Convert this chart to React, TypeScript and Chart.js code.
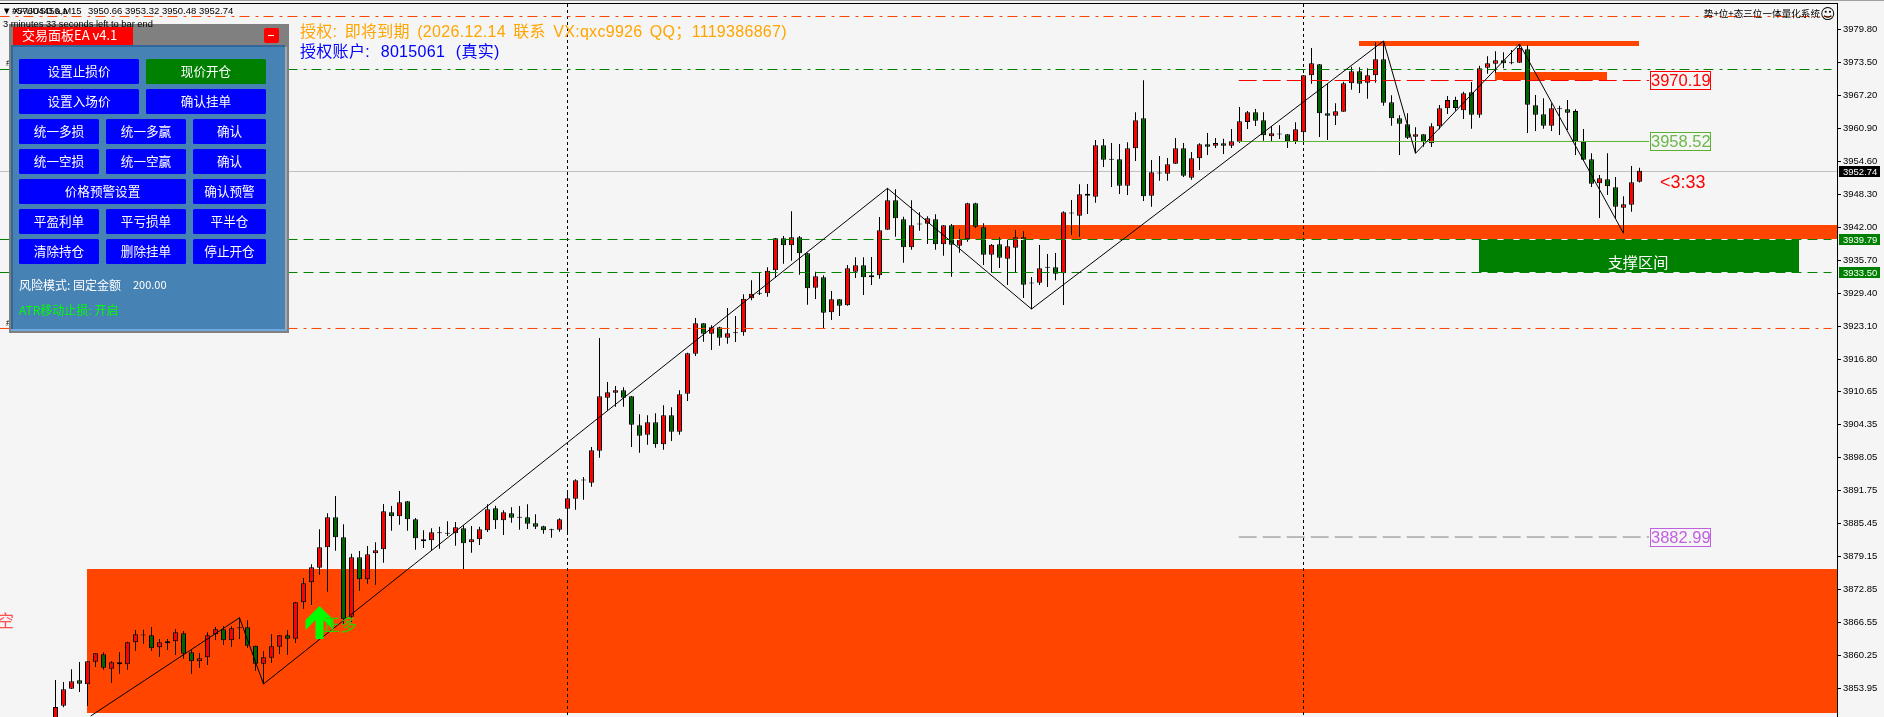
import React, { useEffect, useRef } from "react";
import { Chart, registerables } from "chart.js";

Chart.register(...registerables);

const firstCandle = 6;
const candleKinds =
  "rrrgrrgrgr" + "rdgrrrggrr" + "rgrdggrrrg" + "rrrrrggrgr" + "rrgrgggrdd" +
  "rgrrrgrgdg" + "ggdrrrdrrr" + "rgggrgrgrr" + "rgrgrdrrdr" + "rgrggrgrgr" +
  "rgrrrggrdr" + "grgrrggrgr" + "rgdrdgrdrg" + "rgdgrrgrdr" + "rgrrgrgrrr" +
  "ggrdgrrrgg" + "rrrgrrgggg" + "rgrrrgrgrr" + "rgdrgggrdg" + "gggrggrrr";

const candleHigh = [
  3855.52,3855.14,3857.56,3858.96,3859.09,3860.67,3860.81,3859.09,3860.81,3862.83,
  3865.07,3865.12,3865.64,3863.35,3863.35,3865.2,3864.88,3861.31,3860.67,3864.63,
  3865.64,3865.77,3865.77,3867.41,3866.92,3862.07,3861.0,3864.25,3864.11,3865.01,
  3870.41,3874.99,3877.61,3884.29,3887.35,3890.65,3885.25,3879.63,3880.15,3881.10,
  3881.81,3889.12,3888.74,3891.6,3889.7,3886.45,3884.1,3884.48,3884.79,3885.82,
  3885.68,3885.05,3884.92,3884.79,3889.06,3888.80,3887.92,3888.49,3888.74,3889.06,
  3887.16,3884.98,3884.41,3886.39,3891.79,3893.84,3894.28,3900.0,3920.81,3912.41,
  3911.65,3911.40,3909.74,3906.25,3906.05,3906.44,3907.96,3907.58,3910.83,3918.0,
  3924.63,3923.62,3923.24,3922.97,3926.54,3925.01,3929.16,3931.83,3933.36,3934.31,
  3939.90,3940.28,3944.99,3940.28,3937.10,3933.47,3932.78,3929.78,3928.26,3934.75,
  3936.22,3936.22,3936.27,3943.91,3949.39,3949.2,3943.97,3947.10,3944.81,3944.05,
  3944.43,3942.33,3942.58,3941.56,3946.64,3946.64,3942.71,3938.76,3940.04,3939.52,
  3941.43,3941.18,3932.46,3938.57,3936.85,3937.04,3944.99,3947.16,3950.15,3950.21,
  3958.61,3958.80,3958.04,3957.85,3958.17,3963.90,3970.01,3954.79,3955.56,3955.18,
  3958.99,3958.04,3956.32,3957.98,3959.95,3958.99,3958.86,3960.71,3964.91,3964.15,
  3964.53,3963.90,3961.29,3961.42,3959.76,3961.99,3971.02,3976.18,3973.12,3969.30,
  3965.62,3969.74,3972.61,3972.49,3972.30,3977.26,3977.51,3967.15,3963.33,3963.71,
  3961.04,3959.70,3961.80,3965.29,3967.01,3966.88,3967.83,3969.69,3972.80,3974.59,
  3975.55,3975.36,3975.79,3976.94,3976.69,3967.20,3966.57,3965.62,3965.16,3966.25,
  3964.47,3960.71,3956.07,3951.93,3956.07,3951.55,3947.86,3953.65,3953.32,
];

const candleTop = [
  3850.37,3853.75,3855.27,3855.46,3859.09,3860.62,3860.43,3858.90,3858.90,3862.72,
  3864.25,3864.11,3864.05,3862.72,3862.91,3864.63,3864.44,3860.81,3859.66,3864.05,
  3865.2,3865.2,3865.39,3865.51,3865.58,3862.07,3859.85,3861.95,3864.05,3864.05,
  3870.36,3873.98,3877.03,3880.85,3886.58,3886.58,3882.76,3878.95,3878.95,3879.52,
  3880.28,3887.73,3887.54,3889.44,3889.64,3886.2,3882.38,3883.72,3883.64,3883.53,
  3884.67,3884.48,3882.38,3884.29,3888.11,3888.30,3887.54,3887.35,3886.58,3886.58,
  3885.44,3884.86,3884.21,3886.2,3890.21,3893.65,3893.70,3899.37,3909.68,3910.44,
  3910.83,3910.83,3909.68,3904.14,3904.72,3904.72,3906.05,3906.05,3910.06,3917.89,
  3923.62,3923.62,3922.85,3922.85,3921.71,3921.82,3928.32,3929.27,3929.34,3933.66,
  3939.85,3939.85,3940.04,3940.04,3936.98,3932.59,3932.40,3928.20,3928.20,3934.12,
  3934.69,3934.69,3932.78,3941.37,3947.10,3947.10,3943.47,3942.33,3942.58,3943.66,
  3943.47,3942.33,3942.33,3939.65,3946.53,3946.53,3941.95,3938.62,3938.70,3938.32,
  3940.04,3940.04,3931.31,3934.12,3934.31,3934.31,3944.81,3944.68,3948.25,3948.36,
  3957.60,3957.60,3954.93,3954.93,3957.03,3962.37,3962.76,3952.45,3952.31,3953.97,
  3957.03,3957.03,3955.12,3957.79,3957.79,3958.04,3957.98,3958.36,3962.18,3963.90,
  3963.90,3962.37,3959.89,3959.76,3959.70,3960.66,3970.96,3973.26,3973.06,3963.71,
  3964.09,3969.44,3971.73,3971.73,3970.96,3974.02,3974.02,3965.81,3962.76,3961.61,
  3959.70,3959.70,3961.23,3964.66,3966.25,3966.25,3967.53,3967.72,3972.30,3973.26,
  3973.83,3973.83,3973.37,3976.18,3975.93,3965.24,3963.52,3964.66,3964.59,3964.47,
  3964.15,3958.29,3954.93,3951.30,3951.11,3949.58,3946.34,3950.54,3952.74,
];

const candleBottom = [
  3846.93,3850.62,3853.86,3854.81,3854.70,3859.01,3857.87,3857.68,3858.52,3858.52,
  3862.72,3864.11,3861.57,3861.77,3862.53,3862.91,3860.54,3859.09,3859.09,3859.85,
  3864.25,3863.10,3863.10,3865.51,3862.07,3858.63,3858.63,3859.78,3861.88,3863.41,
  3863.41,3870.36,3874.17,3876.96,3880.85,3882.76,3867.11,3867.60,3874.74,3874.74,
  3879.71,3880.47,3886.77,3886.77,3886.2,3882.57,3882.0,3882.19,3883.64,3883.53,
  3883.53,3881.62,3881.81,3882.38,3884.10,3886.01,3886.01,3886.51,3886.58,3885.36,
  3884.79,3884.10,3884.21,3884.21,3888.22,3890.13,3893.70,3893.19,3899.30,3909.42,
  3910.37,3909.42,3904.26,3902.16,3902.35,3900.52,3900.52,3902.92,3902.92,3910.18,
  3917.82,3921.63,3921.63,3920.87,3920.87,3921.82,3921.90,3928.39,3929.34,3929.34,
  3933.74,3938.51,3938.51,3936.98,3930.30,3930.42,3925.64,3925.72,3926.98,3927.05,
  3933.47,3932.40,3932.40,3932.78,3941.49,3943.66,3938.13,3938.13,3942.58,3942.63,
  3938.70,3938.70,3938.62,3938.43,3939.65,3942.06,3936.71,3936.71,3936.14,3935.95,
  3938.05,3930.99,3931.31,3931.37,3934.31,3933.09,3933.16,3944.68,3944.16,3947.98,
  3947.79,3954.85,3954.93,3949.89,3949.89,3957.03,3947.86,3947.98,3952.31,3952.18,
  3954.09,3951.80,3951.41,3955.12,3957.33,3957.52,3957.52,3957.52,3958.29,3962.07,
  3962.30,3959.51,3959.32,3959.76,3958.36,3958.36,3960.08,3970.96,3963.71,3963.25,
  3963.25,3964.02,3969.44,3969.36,3969.55,3970.96,3965.73,3962.76,3961.72,3959.05,
  3959.24,3958.17,3957.98,3961.23,3964.66,3964.72,3964.28,3963.44,3963.44,3972.42,
  3973.18,3973.26,3973.37,3973.37,3965.35,3963.44,3961.34,3961.34,3964.59,3963.82,
  3958.36,3954.85,3950.27,3950.35,3949.77,3945.88,3945.69,3946.26,3950.66,
];

const candleLow = [
  3845.97,3850.31,3853.80,3853.23,3850.56,3858.0,3857.49,3855.01,3856.73,3857.49,
  3861.11,3862.45,3861.11,3859.97,3861.25,3860.29,3859.59,3856.73,3857.87,3858.38,
  3863.16,3862.2,3861.88,3863.35,3861.63,3857.30,3854.76,3858.77,3860.48,3860.35,
  3862.58,3869.13,3869.84,3875.57,3872.38,3880.2,3866.16,3866.59,3872.57,3873.90,
  3873.71,3877.91,3884.02,3885.17,3884.02,3880.4,3880.72,3880.28,3880.59,3883.01,
  3881.16,3876.71,3879.82,3881.29,3883.78,3884.35,3883.20,3885.55,3884.21,3884.35,
  3884.35,3883.45,3882.69,3883.83,3883.53,3888.03,3889.94,3892.42,3897.96,3906.93,
  3907.70,3907.70,3900.0,3898.92,3900.44,3899.87,3899.49,3901.15,3902.35,3908.78,
  3917.38,3920.10,3918.52,3919.34,3919.72,3920.05,3921.25,3928.01,3929.02,3928.70,
  3932.27,3935.0,3935.57,3932.90,3927.17,3928.26,3922.66,3924.25,3925.01,3926.98,
  3932.27,3929.02,3930.93,3932.13,3941.49,3940.15,3935.19,3937.67,3941.30,3938.76,
  3937.67,3936.52,3932.52,3937.10,3939.20,3941.81,3934.75,3933.28,3934.18,3930.93,
  3933.35,3928.45,3926.35,3930.93,3930.55,3931.83,3927.11,3940.48,3940.15,3944.49,
  3946.64,3953.46,3949.64,3948.30,3948.11,3954.60,3946.97,3945.88,3950.84,3950.84,
  3954.03,3951.55,3951.03,3952.89,3955.75,3957.08,3955.94,3957.08,3958.04,3960.71,
  3961.29,3958.48,3958.42,3958.80,3957.08,3957.85,3958.36,3969.36,3959.18,3958.61,
  3961.48,3964.02,3968.22,3967.59,3966.50,3969.55,3965.16,3961.34,3955.75,3958.80,
  3956.07,3957.33,3957.28,3960.66,3963.58,3964.21,3962.62,3960.77,3962.87,3971.27,
  3971.35,3972.30,3973.06,3973.37,3959.95,3960.33,3960.77,3960.33,3959.57,3960.52,
  3955.75,3954.79,3949.64,3943.72,3948.11,3943.59,3940.80,3944.93,3950.48,
];

const yTickLabels = [
  "3853.95","3860.25","3866.55","3872.85","3879.15","3885.45","3891.75",
  "3898.05","3904.35","3910.65","3916.80","3923.10","3929.40","3935.70",
  "3942.00","3948.30","3954.60","3960.90","3967.20","3973.50","3979.80",
];

// zigzag turning points: [candle index, price]
const zigzagPoints = [
  [10.4, 3848.65], [29, 3867.41], [32, 3854.76], [110, 3949.39], [128, 3926.35],
  [172, 3977.51], [176, 3956.07], [189, 3976.94], [202, 3940.8],
];

// zones: [start candle, end candle, top price, bottom price, colour]
const AXIS_END = 228.6875;
const zones: [number, number, number, number, string][] = [
  [9.94, AXIS_END, 3876.71, 3849.22, "#ff4500"],
  [118.2, AXIS_END, 3942.38, 3939.71, "#ff4500"],
  [168.9, 203.9, 3977.51, 3976.56, "#ff4500"],
  [185.9, 199.9, 3971.59, 3970.07, "#ff4500"],
  [183.9, 223.9, 3939.71, 3933.4, "#008000"],
];

const LINE_END = 228;
const separators = [70, 162];
const lastPriceLine = 3952.6;
const orangeLevels = [3982.19, 3922.63];
const greenDashDotLevel = 3972.07;
const greenLevels = [3939.62, 3933.32];
const levelLabels = [
  { linePrice: 3969.97, text: "3970.19", color: "#ff0000", box: "#ff0000" },
  { linePrice: 3958.33, text: "3958.52", color: "#6cb84a", box: "#5cb030" },
  { linePrice: 3882.82, text: "3882.99", color: "#c060e0", box: "#c060e0" },
];
const LEVEL_START = 153.9;
const LEVEL_END = 205.2;

const priceTags = [
  { price: 3952.74, bg: "#000000" },
  { price: 3939.79, bg: "#008000" },
  { price: 3933.5, bg: "#008000" },
];

const panelButtons: [string, number, number, number, string][] = [
  ["设置止损价", 19, 59, 120, "#0000ff"], ["现价开仓", 146, 59, 120, "#008000"],
  ["设置入场价", 19, 89, 120, "#0000ff"], ["确认挂单", 146, 89, 120, "#0000ff"],
  ["统一多损", 19, 119, 80, "#0000ff"], ["统一多赢", 106, 119, 80, "#0000ff"], ["确认", 193, 119, 73, "#0000ff"],
  ["统一空损", 19, 149, 80, "#0000ff"], ["统一空赢", 106, 149, 80, "#0000ff"], ["确认", 193, 149, 73, "#0000ff"],
  ["价格预警设置", 19, 179, 167, "#0000ff"], ["确认预警", 193, 179, 73, "#0000ff"],
  ["平盈利单", 19, 209, 80, "#0000ff"], ["平亏损单", 106, 209, 80, "#0000ff"], ["平半仓", 193, 209, 73, "#0000ff"],
  ["清除持仓", 19, 239, 80, "#0000ff"], ["删除挂单", 106, 239, 80, "#0000ff"], ["停止开仓", 193, 239, 73, "#0000ff"],
];

const CJK = '"Noto Sans CJK SC"';
const LATIN = '"Liberation Sans"';

function hLine(price: number, from: number, to: number, color: string, dash: number[], order: number, width = 1) {
  return {
    type: "line" as const,
    data: [{ x: from, y: price }, { x: to, y: price }],
    borderColor: color,
    borderWidth: width,
    borderDash: dash,
    pointRadius: 0,
    order,
  };
}

const overlayPlugin = {
  id: "overlay",
  beforeDraw(chart: any) {
    const c = chart.ctx;
    c.save();
    c.fillStyle = "#f5f5f5";
    c.fillRect(0, 0, chart.width, chart.height);
    c.fillStyle = "#a0a0a0";
    c.fillRect(0, 0, chart.width, 1);
    c.fillStyle = "#000";
    c.fillRect(0, 3, 1838, 1);
    c.restore();
  },
  beforeDatasetsDraw(chart: any) {
    const c = chart.ctx;
    const { x, y } = chart.scales;
    const area = chart.chartArea;
    c.save();
    zones.forEach(([a, b, top, bottom, color]) => {
      const l = Math.round(x.getPixelForValue(a));
      const r = Math.round(x.getPixelForValue(b));
      const t = Math.round(y.getPixelForValue(top));
      const bt = Math.round(y.getPixelForValue(bottom));
      c.fillStyle = color;
      c.fillRect(l, t, r - l, bt - t);
    });
    c.strokeStyle = "#000";
    c.lineWidth = 1;
    c.setLineDash([3, 3]);
    separators.forEach((k) => {
      const px = Math.floor(x.getPixelForValue(k)) + 0.5;
      c.beginPath();
      c.moveTo(px, area.top);
      c.lineTo(px, area.bottom);
      c.stroke();
    });
    c.restore();
  },
  afterDatasetsDraw(chart: any) {
    const c = chart.ctx;
    const { x, y } = chart.scales;
    c.save();
    c.textBaseline = "middle";

    // level labels
    levelLabels.forEach((l) => {
      const yc = Math.floor(y.getPixelForValue(l.linePrice));
      c.fillStyle = "#f5f5f5";
      c.fillRect(1650, yc - 9, 61, 19);
      c.strokeStyle = l.box;
      c.lineWidth = 1;
      c.strokeRect(1650.5, yc - 8.5, 60, 18);
      c.fillStyle = l.color;
      c.font = `16.5px ${LATIN}`;
      c.textAlign = "left";
      c.fillText(l.text, 1651, yc + 1);
    });

    c.fillStyle = "#ff0000";
    c.font = `18px ${LATIN}`;
    c.fillText("<3:33", 1660, 183);

    c.fillStyle = "#ffffff";
    c.font = `15.2px ${CJK}`;
    c.textAlign = "center";
    c.fillText("支撑区间", 1638, 262);
    c.textAlign = "left";

    // buy arrow
    const ax = x.getPixelForValue(39);
    const ay = y.getPixelForValue(3869.65);
    c.fillStyle = "#00ff00";
    c.beginPath();
    c.moveTo(ax, ay);
    c.lineTo(ax + 14, ay + 14);
    c.lineTo(ax + 14, ay + 24);
    c.lineTo(ax + 4, ay + 14);
    c.lineTo(ax + 4, ay + 33);
    c.lineTo(ax - 4, ay + 33);
    c.lineTo(ax - 4, ay + 14);
    c.lineTo(ax - 14, ay + 24);
    c.lineTo(ax - 14, ay + 14);
    c.closePath();
    c.fill();

    c.fillStyle = "#33cc00";
    c.font = `17px ${CJK}`;
    c.fillText("正多", 323, 625);
    c.fillStyle = "#ff5050";
    c.font = `17px ${CJK}`;
    c.fillText("空", -3, 621);

    // authorisation texts
    c.font = `16px ${LATIN}, ${CJK}`;
    c.letterSpacing = "0.3px";
    c.wordSpacing = "2.6px";
    c.fillStyle = "#ffa500";
    c.fillText("授权: 即将到期 (2026.12.14 联系 VX:qxc9926 QQ；1119386867)", 300, 33);
    c.wordSpacing = "6px";
    c.fillStyle = "#0000ff";
    c.fillText("授权账户: 8015061 (真实)", 300, 53);
    c.letterSpacing = "0px";
    c.wordSpacing = "0px";

    // top-right system caption
    c.fillStyle = "#000";
    c.font = `9.6px ${CJK}`;
    c.textAlign = "right";
    c.fillText("势+位+态三位一体量化系统", 1820, 13);
    c.textAlign = "left";
    c.font = `15px "DejaVu Sans"`;
    c.fillText("☺", 1820, 15);

    // top-left info
    c.font = `9.5px ${LATIN}`;
    c.fillStyle = "#000";
    c.fillText("▼", 2, 11);
    c.fillText("#57604456.a", 12, 11);
    c.fillText("XAUUSD.a,M15", 13, 11);
    c.fillText("3950.66 3953.32 3950.48 3952.74", 88, 11);
    c.fillText("#", 6, 63);
    c.fillText("#", 6, 323);

    // trade panel
    c.fillStyle = "#808080";
    c.fillRect(9, 24, 280, 309);
    c.fillStyle = "#a0a8b0";
    c.fillRect(285, 47, 2, 283);
    c.fillStyle = "#336699";
    c.fillRect(11, 45, 274, 2);
    c.fillRect(11, 47, 2, 283);
    c.fillStyle = "#4682b4";
    c.fillRect(13, 47, 272, 282);
    c.fillStyle = "#6fa8dc";
    c.fillRect(11, 329, 276, 2);

    c.font = `9.3px ${LATIN}`;
    c.fillStyle = "#000";
    c.fillText("3 minutes 33 seconds left to bar end", 3, 24);

    c.fillStyle = "#ff0000";
    c.fillRect(13, 27, 120, 18);
    c.fillStyle = "#fff";
    c.font = `13px ${CJK}`;
    c.fillText("交易面板EA v4.1", 22, 35.5);

    c.fillStyle = "#ff0000";
    c.beginPath();
    c.roundRect(264, 28, 15, 15, 2);
    c.fill();
    c.fillStyle = "#fff";
    c.fillRect(268, 35, 6, 1);

    c.textAlign = "center";
    c.font = `12.6px ${CJK}`;
    panelButtons.forEach(([label, bx, by, bw, color]) => {
      c.fillStyle = color;
      c.beginPath();
      c.roundRect(bx, by, bw, 25, 1.5);
      c.fill();
      c.fillStyle = "#fff";
      c.fillText(label, bx + bw / 2, by + 12.5);
    });
    c.textAlign = "left";
    c.fillStyle = "#fff";
    c.font = `12px ${CJK}`;
    c.fillText("风险模式: 固定金额", 19, 285);
    c.font = `11px ${CJK}`;
    c.fillText("200.00", 133, 285);
    c.fillStyle = "#00ff00";
    c.font = `12px ${CJK}`;
    c.fillText("ATR移动止损: 开启", 19, 310);

    // price tags on the axis
    c.font = `9.5px ${LATIN}`;
    priceTags.forEach((t) => {
      const yc = y.getPixelForValue(t.price);
      c.fillStyle = t.bg;
      c.fillRect(1839, Math.round(yc) - 5, 41, 11);
      c.fillStyle = "#fff";
      c.fillText(t.price.toFixed(2), 1843, Math.round(yc) + 1);
    });
    c.restore();
  },
};

export default function App() {
  const ref = useRef<HTMLCanvasElement>(null);

  useEffect(() => {
    document.body.style.margin = "0";
    document.body.style.background = "#f5f5f5";
    const indices = candleHigh.map((_, i) => firstCandle + i);
    const kind = (i: number) => candleKinds[i];
    const bodyColor = (i: number) =>
      kind(i) === "r" ? "#ff0000" : kind(i) === "g" ? "#006400" : "#000000";

    const chart = new Chart(ref.current as HTMLCanvasElement, {
      type: "bar",
      data: {
        datasets: [
          hLine(lastPriceLine, -1, AXIS_END, "#c0c0c0", [], 20),
          {
            type: "bar",
            data: indices.map((k, i) => ({ x: k, y: [candleLow[i], candleHigh[i]] })),
            backgroundColor: "#000000",
            barThickness: 1,
            grouped: false,
            borderWidth: 0,
            inflateAmount: 0,
            order: 12,
          },
          {
            type: "bar",
            data: indices.map((k, i) => ({
              x: k,
              y: candleTop[i] === candleBottom[i]
                ? [candleBottom[i] - 0.1, candleTop[i] + 0.1]
                : [candleBottom[i], candleTop[i]],
            })),
            backgroundColor: indices.map((_, i) => bodyColor(i)),
            borderColor: "#000000",
            borderWidth: 1,
            borderSkipped: false,
            barThickness: 5,
            grouped: false,
            inflateAmount: 0,
            order: 11,
          },
          ...orangeLevels.map((p) => hLine(p, -1, LINE_END, "#ff4500", [10, 6, 3, 5], 6)),
          hLine(greenDashDotLevel, -1, LINE_END, "#008000", [10, 6, 3, 5], 6),
          hLine(greenLevels[0], 118.2, AXIS_END, "#f5f5f5", [], 7),
          hLine(greenLevels[1], 183.9, 223.9, "#f5f5f5", [], 7),
          ...greenLevels.map((p) => hLine(p, -1, LINE_END, "#008000", [10, 6], 6)),
          hLine(levelLabels[0].linePrice, LEVEL_START, LEVEL_END, "#ff0000", [18, 6], 5),
          hLine(levelLabels[1].linePrice, LEVEL_START, LEVEL_END, "#5cb030", [], 5),
          hLine(levelLabels[2].linePrice, LEVEL_START, LEVEL_END, "#808080", [18, 6], 5),
          {
            type: "line",
            data: zigzagPoints.map(([px, py]) => ({ x: px, y: py })),
            borderColor: "#000000",
            borderWidth: 1,
            pointRadius: 0,
            tension: 0,
            order: 2,
          },
        ] as any,
      },
      options: {
        responsive: false,
        animation: false,
        layout: { padding: { top: 4, left: 0, right: 0, bottom: 0 } },
        plugins: { legend: { display: false }, tooltip: { enabled: false } },
        scales: {
          x: {
            type: "linear",
            display: false,
            min: -0.9375,
            max: AXIS_END,
            offset: false,
          },
          y: {
            type: "linear",
            position: "right",
            min: 3848.46,
            max: 3984.576,
            grid: { drawOnChartArea: false, drawTicks: true, tickLength: 4, tickColor: "#000" },
            border: { color: "#000", width: 1 },
            ticks: {
              autoSkip: false,
              padding: 2,
              color: "#000",
              font: { family: "Liberation Sans", size: 9.5 },
              callback: (v: any) => Number(v).toFixed(2),
            },
            afterBuildTicks: (scale: any) => {
              scale.ticks = yTickLabels.map((t) => ({ value: parseFloat(t) }));
            },
            afterFit: (scale: any) => {
              scale.width = 47;
              scale.paddingTop = 0;
              scale.paddingBottom = 0;
            },
          },
        },
      } as any,
      plugins: [overlayPlugin],
    });
    return () => chart.destroy();
  }, []);

  return (
    <div style={{ position: "fixed", left: 0, top: 0, width: 1884, height: 717, background: "#f5f5f5" }}>
      <canvas ref={ref} width={1884} height={717} style={{ display: "block" }} />
    </div>
  );
}
